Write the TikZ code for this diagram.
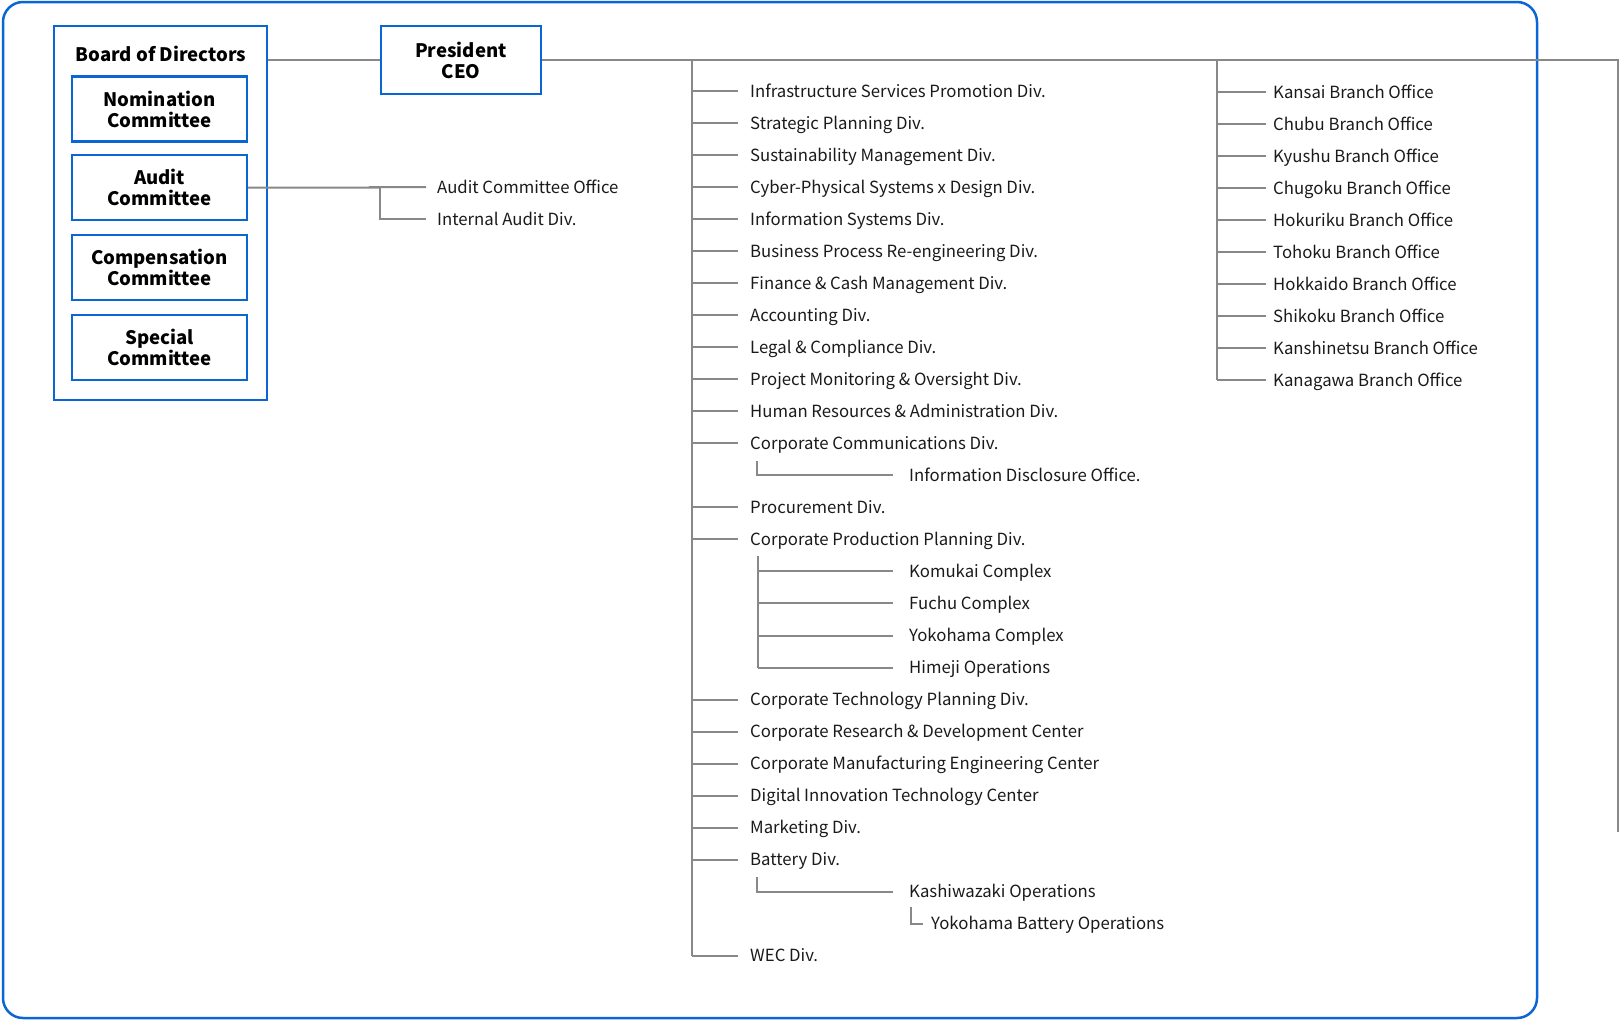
\documentclass[tikz,border=0pt]{standalone}
\usepackage{fontspec}
\setmainfont{Noto Sans CJK JP}
\definecolor{frameblue}{RGB}{10,102,212}
\definecolor{linegray}{RGB}{136,136,136}
\definecolor{txt}{RGB}{26,26,26}
\begin{document}
\begin{tikzpicture}[x=1pt,y=-1pt,
  item/.style={anchor=west,inner sep=0pt,text height=12.5pt,text depth=0.5pt,font=\fontsize{16.75}{20}\selectfont,text=txt},
  boxtxt/.style={font=\bfseries\fontsize{18.6}{21}\selectfont,text=black,align=center},
  bluebox/.style={draw=frameblue,line width=2.2pt,minimum width=175pt,minimum height=65pt,boxtxt},
  conn/.style={draw=linegray,line width=2pt}]
\useasboundingbox (0,0) rectangle (1620,1020);
% outer frame
\draw[frameblue,line width=2.5pt,rounded corners=20pt] (3,2) rectangle (1537,1018);
% board
\node[draw=frameblue,line width=2.2pt,minimum width=213pt,minimum height=374pt] (board) at (160.5,213) {};
\node[boxtxt] (boardt) at (161,54) {Board of Directors};
\node[bluebox] (nom) at (159.5,109) {Nomination\\Committee};
\node[bluebox] (aud) at (159.5,187.5) {Audit\\Committee};
\node[bluebox] (comp) at (159.5,267.5) {Compensation\\Committee};
\node[bluebox] (spec) at (159.5,347.5) {Special\\Committee};
% president
\node[draw=frameblue,line width=2.2pt,minimum width=160pt,minimum height=68pt,boxtxt] (pres) at (461,60) {President\\CEO};
\draw[conn] (pres.west) -- (pres.west -| board.east);
% audit offices
\node[item] (aco) at (437,{91+32.03*3}) {Audit Committee Office};
\node[item] (iad) at (437,{91+32.03*4}) {Internal Audit Div.};
\coordinate (aj) at (380,187.5);
\draw[conn] (aud.east) -- (aj) -- ([xshift=-11pt]aco.west -| aj) -- ([xshift=-11pt]aco.west);
\draw[conn] (aj) -- (aj |- iad.west) -- ([xshift=-11pt]iad.west);
% top line
\coordinate (ttop) at (692,60);
\coordinate (btop) at (1217,60);
\coordinate (rtop) at (1618,60);
\coordinate (rbot) at (1618,832);
\draw[conn] (pres.east) -- (rtop) -- (rbot);
% main column
\foreach \r/\t in {0/Infrastructure Services Promotion Div.,1/Strategic Planning Div.,2/Sustainability Management Div.,3/Cyber-Physical Systems x Design Div.,4/Information Systems Div.,5/Business Process Re-engineering Div.,6/Finance \& Cash Management Div.,7/Accounting Div.,8/Legal \& Compliance Div.,9/Project Monitoring \& Oversight Div.,10/Human Resources \& Administration Div.,11/Corporate Communications Div.,13/Procurement Div.,14/Corporate Production Planning Div.,19/Corporate Technology Planning Div.,20/Corporate Research \& Development Center,21/Corporate Manufacturing Engineering Center,22/Digital Innovation Technology Center,23/Marketing Div.,24/Battery Div.,27/WEC Div.}{
  \node[item] (m\r) at (750,{91+32.03*\r}) {\t};
  \draw[conn] (ttop |- m\r.west) -- ([xshift=-12pt]m\r.west);
}
\draw[conn] (ttop) -- (ttop |- m27.west);
% sub items
\foreach \r/\t in {12/Information Disclosure Office.,15/Komukai Complex,16/Fuchu Complex,17/Yokohama Complex,18/Himeji Operations,25/Kashiwazaki Operations}{
  \node[item] (s\r) at (909,{91+32.03*\r}) {\t};
}
\coordinate (c11) at (757,461);
\draw[conn] (c11) -- (c11 |- s12.west) -- ([xshift=-16pt]s12.west);
\coordinate (c14) at (758,556);
\draw[conn] (c14) -- (c14 |- s18.west);
\foreach \r in {15,16,17,18}{\draw[conn] (c14 |- s\r.west) -- ([xshift=-16pt]s\r.west);}
\coordinate (c24) at (757,877);
\draw[conn] (c24) -- (c24 |- s25.west) -- ([xshift=-16pt]s25.west);
\node[item] (s26) at (931,{91+32.03*26}) {Yokohama Battery Operations};
\coordinate (c25) at (911,907);
\draw[conn] (c25) -- (c25 |- s26.west) -- ([xshift=-8pt]s26.west);
% branch column
\foreach \r/\t in {0/Kansai Branch Office,1/Chubu Branch Office,2/Kyushu Branch Office,3/Chugoku Branch Office,4/Hokuriku Branch Office,5/Tohoku Branch Office,6/Hokkaido Branch Office,7/Shikoku Branch Office,8/Kanshinetsu Branch Office,9/Kanagawa Branch Office}{
  \node[item] (b\r) at (1273,{92+32.03*\r}) {\t};
  \draw[conn] (btop |- b\r.west) -- ([xshift=-7pt]b\r.west);
}
\draw[conn] (btop) -- (btop |- b9.west);
\end{tikzpicture}
\end{document}
